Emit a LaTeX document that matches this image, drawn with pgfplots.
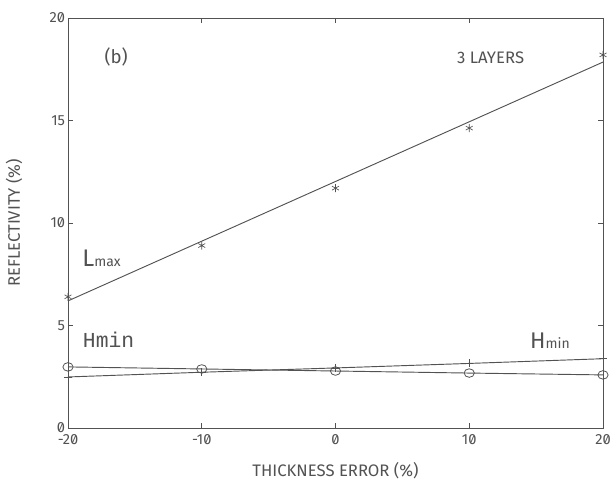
\documentclass[border=0pt]{standalone}
\usepackage{pgfplots}
\pgfplotsset{compat=1.18}
\usepackage{fontspec}
\setmainfont{Fira Sans}[Numbers=SlashedZero]
\newfontfamily\monofont{Liberation Mono}
\definecolor{ink}{gray}{0.32}

\begin{document}
\begin{tikzpicture}
\path[use as bounding box] (0,0) rectangle (462pt,363.75pt);
\begin{axis}[
  at={(51pt,42.75pt)}, anchor=south west,
  scale only axis, width=401.25pt, height=307.5pt,
  xmin=-20, xmax=20, ymin=0, ymax=20,
  xtick={-20,-10,0,10,20}, ytick={0,5,10,15,20},
  tick align=inside, major tick length=4pt,
  axis line style={ink, line width=0.7pt},
  every tick/.style={ink, line width=0.6pt},
  /pgf/number format/assume math mode=true,
  every tick label/.append style={font=\fontsize{11}{11}\selectfont, text=ink},
  yticklabel style={inner ysep=0pt, inner xsep=2pt},
  xticklabel style={inner ysep=0pt, yshift=-5pt},
  xlabel={THICKNESS ERROR (\%)},
  ylabel={REFLECTIVITY (\%)},
  xlabel style={at={(axis description cs:0.5,-0.105)}, anchor=center, font=\fontsize{12.5}{13}\selectfont, text=ink},
  ylabel style={at={(axis description cs:-0.101,0.5)}, anchor=center, font=\fontsize{12.5}{13}\selectfont, text=ink},
  clip=false,
]
% L_max fitted line
\addplot[ink, line width=0.7pt, no marks] coordinates {(-20,6.2) (20,17.85)};
% L_max computed points
\addplot[ink, only marks, mark=asterisk, mark size=3pt, mark options={line width=0.5pt}] coordinates {
  (-20,6.4) (-10,8.9) (0,11.7) (10,14.63) (20,18.2)};
% H_min circles
\addplot[ink, line width=0.7pt, mark=o, mark size=3.2pt, mark options={xscale=1.2, line width=0.6pt}] coordinates {
  (-20,2.98) (-10,2.88) (0,2.78) (10,2.68) (20,2.59)};
% H_min plus
\addplot[ink, line width=0.7pt, mark=+, mark size=3pt, mark options={line width=0.6pt}] coordinates {
  (-20,2.49) (-10,2.72) (0,2.93) (10,3.15) (20,3.38)};

\node[font=\fontsize{14}{14}\selectfont, text=ink] at (axis cs:-16.4,18.1) {(b)};
\node[font=\fontsize{12.5}{13}\selectfont, text=ink] at (axis cs:11.6,18.05) {3 LAYERS};
\node[anchor=base west, inner sep=0pt, text=ink] at (axis cs:-18.95,7.9) {\fontsize{18}{18}\selectfont L\fontsize{10.5}{11}\selectfont max};
\node[anchor=base west, inner sep=0pt, text=ink] at (axis cs:-18.9,3.95) {\monofont\fontsize{16}{16}\selectfont Hmin};
\node[anchor=base west, inner sep=0pt, text=ink] at (axis cs:14.54,3.9) {\fontsize{17}{17}\selectfont H\fontsize{10.5}{11}\selectfont min};
\end{axis}
\end{tikzpicture}
\end{document}
